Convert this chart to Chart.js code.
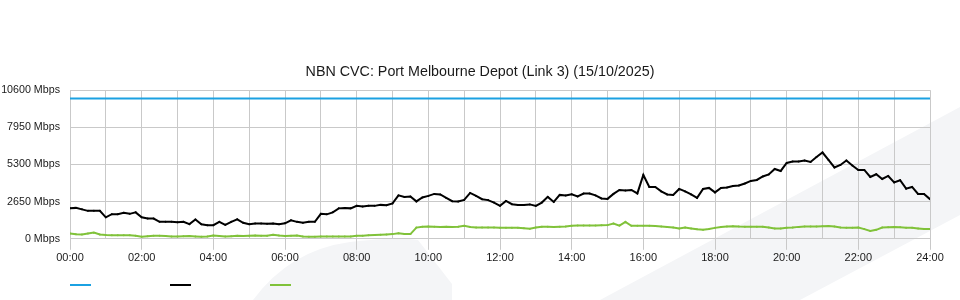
<!DOCTYPE html>
<html>
<head>
<meta charset="utf-8">
<script src="https://cdn.jsdelivr.net/npm/chart.js@4"></script>
<style>
  html, body { margin: 0; padding: 0; background: #fff; }
  #wrap { width: 960px; height: 300px; }
</style>
</head>
<body>
<div id="wrap"><canvas id="cvc-chart" width="960" height="300"></canvas></div>
<script>
// 10-minute samples, 00:00 .. 24:00
var sampleMinutes = 10;
var capacityMbps = 10000;
var downloadMbps = [
  2184, 2205, 2099, 1992, 1992, 1992, 1530, 1757, 1757, 1850, 1779, 1885,
  1530, 1444, 1444, 1209, 1209, 1209, 1174, 1209, 1046, 1373, 1032, 975,
  975, 1209, 996, 1209, 1387, 1138, 1032, 1088, 1088, 1067, 1088, 1032,
  1103, 1316, 1209, 1152, 1209, 1209, 1779, 1743, 1885, 2170, 2205, 2170,
  2348, 2312, 2348, 2348, 2419, 2397, 2525, 3095, 2988, 3023, 2668, 2952,
  3059, 3201, 3166, 2917, 2682, 2668, 2774, 3272, 3059, 2824, 2760, 2582,
  2348, 2703, 2469, 2419, 2419, 2454, 2348, 2582, 2988, 2632, 3130, 3095,
  3180, 3023, 3223, 3223, 3095, 2881, 2846, 3201, 3486, 3450, 3486, 3237,
  4550, 3700, 3699, 3379, 3166, 3130, 3557, 3379, 3166, 2917, 3557, 3628,
  3308, 3628, 3664, 3770, 3806, 3948, 4126, 4197, 4446, 4589, 4980, 4838,
  5407, 5513, 5513, 5584, 5478, 5833, 6154, 5620, 5087, 5264, 5584, 5229,
  4909, 4909, 4411, 4603, 4268, 4482, 4019, 4176, 3578, 3699, 3201, 3201,
  2824
];
var uploadMbps = [
  380, 330, 300, 370, 440, 310, 270, 260, 260, 260, 250, 220,
  150, 190, 210, 210, 200, 170, 160, 190, 200, 170, 140, 170,
  235, 200, 170, 190, 210, 200, 220, 235, 210, 220, 285, 230,
  200, 220, 240, 160, 140, 150, 160, 165, 165, 165, 165, 170,
  210, 225, 250, 270, 290, 310, 334, 400, 340, 334, 800, 860,
  875, 860, 850, 860, 850, 860, 925, 840, 800, 800, 810, 800,
  783, 783, 790, 783, 760, 711, 800, 854, 854, 850, 860, 870,
  930, 946, 950, 940, 946, 960, 975, 1088, 940, 1209, 925, 925,
  925, 925, 910, 880, 840, 800, 733, 800, 740, 680, 640, 700,
  780, 840, 880, 900, 870, 854, 854, 854, 854, 800, 740, 733,
  780, 800, 850, 880, 875, 875, 900, 910, 870, 810, 783, 790,
  800, 690, 560, 640, 800, 830, 850, 830, 790, 780, 740, 700,
  690
];
var hourLabels = ["00:00","02:00","04:00","06:00","08:00","10:00","12:00",
                  "14:00","16:00","18:00","20:00","22:00","24:00"];
var yTicks = [0, 2650, 5300, 7950, 10600];

var colours = { capacity: "#1ba1e2", down: "#000000", up: "#80c23a" };

function toPoints(values) {
  return values.map(function (v, i) {
    return { x: i * sampleMinutes / 60, y: v };
  });
}

// faint logo shapes behind the chart
var watermark = {
  id: "watermark",
  beforeDraw: function (chart) {
    var c = chart.ctx;
    c.save();
    c.fillStyle = "#f4f5f7";
    c.beginPath();
    c.moveTo(600, 300);
    c.lineTo(960, 107);
    c.lineTo(960, 215);
    c.lineTo(800, 300);
    c.closePath();
    c.fill();
    c.beginPath();
    c.moveTo(253, 300);
    c.quadraticCurveTo(290, 250, 350, 242);
    c.quadraticCurveTo(400, 236, 418, 240);
    c.lineTo(452, 284);
    c.lineTo(452, 300);
    c.closePath();
    c.fill();
    c.restore();
  }
};

// legend: short coloured strokes only, no text
var strokeLegend = {
  id: "strokeLegend",
  afterDraw: function (chart) {
    var c = chart.ctx;
    var left = chart.chartArea.left;
    c.save();
    c.lineWidth = 2;
    chart.data.datasets.forEach(function (ds, i) {
      c.strokeStyle = ds.borderColor;
      c.beginPath();
      c.moveTo(left + i * 100, 285);
      c.lineTo(left + i * 100 + 21, 285);
      c.stroke();
    });
    c.restore();
  }
};

new Chart(document.getElementById("cvc-chart"), {
  type: "line",
  data: {
    datasets: [{
        data: [{ x: 0, y: capacityMbps }, { x: 24, y: capacityMbps }],
        borderColor: colours.capacity,
        borderWidth: 2,
        pointRadius: 0,
        fill: false
      }, {
        data: toPoints(downloadMbps),
        borderColor: colours.down,
        backgroundColor: colours.down,
        borderWidth: 2,
        pointRadius: 1,
        pointBorderWidth: 0,
        tension: 0,
        fill: false
      }, {
        data: toPoints(uploadMbps),
        borderColor: colours.up,
        backgroundColor: colours.up,
        borderWidth: 2,
        pointRadius: 1,
        pointBorderWidth: 0,
        tension: 0,
        fill: false
      }
    ]
  },
  options: {
    responsive: false,
    animation: false,
    layout: { padding: { top: 55, right: 0, bottom: 33, left: 0 } },
    plugins: {
      legend: { display: false },
      tooltip: { enabled: false },
      title: {
        display: true,
        text: "NBN CVC: Port Melbourne Depot (Link 3) (15/10/2025)",
        color: "#1a1a1a",
        font: { family: "'Liberation Sans', Arial, sans-serif", size: 14.3, weight: "normal" },
        padding: { top: 8, bottom: 10 }
      }
    },
    scales: {
      x: {
        type: "linear",
        min: 0,
        max: 24,
        grid: {
          color: "#c9c9c9",
          tickLength: 11,
          tickColor: function (ctx) {
            return ctx.tick && ctx.tick.value % 2 === 0 ? "#c9c9c9" : "rgba(0,0,0,0)";
          }
        },
        border: { color: "#c9c9c9" },
        ticks: {
          stepSize: 1,
          autoSkip: false,
          maxRotation: 0,
          padding: 2,
          color: "#1a1a1a",
          font: { family: "'Liberation Sans', Arial, sans-serif", size: 11 },
          callback: function (v) {
            return v % 2 === 0 ? hourLabels[v / 2] : "";
          }
        }
      },
      y: {
        min: 0,
        max: 10600,
        grid: { color: "#c9c9c9", drawTicks: false },
        border: { color: "#c9c9c9" },
        afterBuildTicks: function (axis) {
          axis.ticks = yTicks.map(function (v) { return { value: v }; });
        },
        afterFit: function (axis) { axis.width = 70; },
        ticks: {
          padding: 10,
          color: "#1a1a1a",
          font: { family: "'Liberation Sans', Arial, sans-serif", size: 10.7 },
          callback: function (v) { return v + " Mbps"; }
        }
      },
      // empty right-hand margin so the plot ends at the same place as the original
      yRight: {
        position: "right",
        min: 0,
        max: 10600,
        grid: { display: false },
        border: { display: false },
        ticks: { display: false },
        afterFit: function (axis) { axis.width = 30; }
      }
    }
  },
  plugins: [watermark, strokeLegend]
});
</script>
</body>
</html>
